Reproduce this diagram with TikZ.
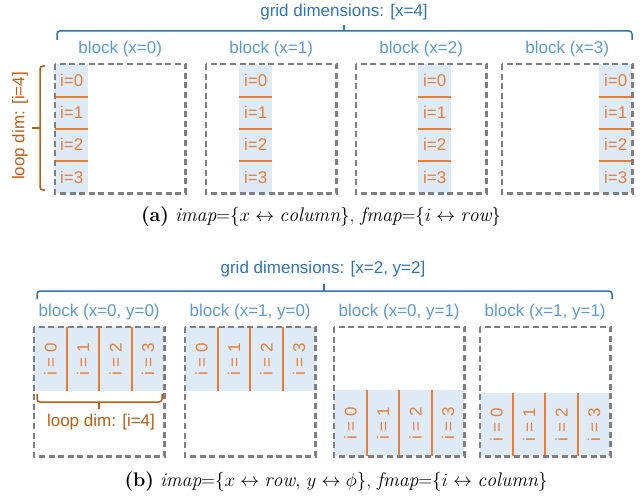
\documentclass[tikz,border=0pt]{standalone}
\usepackage{fontspec}
\usetikzlibrary{calc}
\newfontfamily\lab{Liberation Sans}
\definecolor{gridblue}{HTML}{2E75B6}
\definecolor{blocklabel}{HTML}{5B9BD5}
\definecolor{cellfill}{HTML}{DEEBF7}
\definecolor{iterorange}{HTML}{ED7D31}
\definecolor{loopbrown}{HTML}{C55A11}
\definecolor{boxgray}{HTML}{7F7F7F}
\begin{document}
\begin{tikzpicture}[x=1pt,y=-1pt,
  blockarea/.style={minimum width=130pt, minimum height=129pt, inner sep=0pt, anchor=north west},
  dashedframe/.style={draw=boxgray, line width=2.2pt, dash pattern=on 6pt off 3.6pt},
  blocktitle/.style={font=\lab\fontsize{17}{20}\selectfont, text=blocklabel, inner sep=0pt},
  gridtitle/.style={font=\lab\fontsize{17}{20}\selectfont, text=gridblue, inner sep=0pt},
  looptitle/.style={font=\lab\fontsize{17}{20}\selectfont, text=loopbrown, inner sep=0pt},
  rowcell/.style={fill=cellfill, minimum width=33pt, minimum height=32.25pt, inner sep=0pt,
    anchor=north west, font=\lab\fontsize{17}{20}\selectfont, text=iterorange},
  colcell/.style={fill=cellfill, minimum width=32.5pt, inner sep=0pt, anchor=north west},
  collabel/.style={rotate=90, font=\lab\fontsize{17}{20}\selectfont, text=iterorange, inner sep=0pt},
  divider/.style={draw=iterorange, line width=2pt},
  gridbrace/.style={draw=gridblue, line width=1.5pt, rounded corners=3pt},
  loopbrace/.style={draw=loopbrown, line width=1.5pt, rounded corners=3pt},
  caption/.style={font=\fontsize{18}{21}\selectfont, inner sep=0pt, scale=1.095, transform shape}]
\useasboundingbox (0,0) rectangle (644,497);

% ---------- (a) one row of blocks, iterations stacked in a column ----------
\foreach \k/\bx/\sx in {0/55/55, 1/206/239, 2/356/418, 3/502/599}{
  \node[blockarea] (A\k) at (\bx,64) {};
  \node[blocktitle] (A\k t) at ($(A\k.north)+(0,-15)$) {block (x=\k)};
  \foreach \r in {0,1,2,3}{
    \node[rowcell] (A\k r\r) at (\sx,{64+32.25*\r}) {i=\r};
  }
  \foreach \r in {0,1,2}{
    \draw[divider] (A\k r\r.south west) -- (A\k r\r.south east);
  }
  \draw[dashedframe] (A\k.north west) rectangle (A\k.south east);
}

% grid brace over the blocks
\coordinate (gaL) at (57,40);
\coordinate (gaR) at (632,40);
\coordinate (gaM) at (344,31);
\coordinate (gaT) at (344,25);
\draw[gridbrace] (gaL) -- (57,31) -- (632,31) -- (gaR);
\draw[gridbrace] (gaM) -- (gaT);
\node[gridtitle] (gaText) at (344,12) {grid dimensions: [x=4]};

% loop brace beside the first block
\coordinate (laT) at (45,66);
\coordinate (laB) at (45,190);
\coordinate (laM) at (40,128);
\coordinate (laTip) at (32,128);
\draw[loopbrace] (laT) -- (40,66) -- (40,190) -- (laB);
\draw[loopbrace] (laM) -- (laTip);
\node[looptitle, rotate=90] (laText) at (20,126) {loop dim: [i=4]};

\node[caption] (capA) at (321,217)
  {\textbf{(a)} $\mathit{imap}{=}\{x\leftrightarrow \mathit{column}\}$, $\mathit{fmap}{=}\{i\leftrightarrow \mathit{row}\}$};

% ---------- (b) 2x2 grid, iterations laid out along a row ----------
\foreach \k/\bx/\lbl/\ftop in {0/34/{x=0, y=0}/327, 1/185/{x=1, y=0}/327, 2/334/{x=0, y=1}/390, 3/480/{x=1, y=1}/393}{
  \node[blockarea] (B\k) at (\bx,327) {};
  \node[blocktitle] (B\k t) at ($(B\k.north)+(0,-15)$) {block (\lbl)};
  \pgfmathsetmacro{\ch}{\ftop==327 ? 64 : 456-\ftop}
  \foreach \c in {0,1,2,3}{
    \node[colcell, minimum height=\ch pt] (B\k c\c) at ({\bx+32.5*\c},\ftop) {};
  }
  \foreach \c in {0,1,2,3}{
    \node[collabel] (B\k l\c) at (B\k c\c.center) {i = \c};
  }
  \foreach \c in {0,1,2}{
    \draw[divider] (B\k c\c.north east) -- (B\k c\c.south east);
  }
  \draw[dashedframe] (B\k.north west) rectangle (B\k.south east);
}

% grid brace over the 2x2 blocks
\coordinate (gbL) at (37,299);
\coordinate (gbR) at (612,299);
\coordinate (gbM) at (324,291);
\coordinate (gbT) at (324,284);
\draw[gridbrace] (gbL) -- (37,291) -- (612,291) -- (gbR);
\draw[gridbrace] (gbM) -- (gbT);
\node[gridtitle] (gbText) at (323,269) {grid dimensions: [x=2, y=2]};

% loop brace under the iterations of the first block
\coordinate (lbL) at (37,394);
\coordinate (lbR) at (162,394);
\coordinate (lbM) at (99,402);
\coordinate (lbTip) at (99,409);
\draw[loopbrace] (lbL) -- (37,402) -- (162,402) -- (lbR);
\draw[loopbrace] (lbM) -- (lbTip);
\node[looptitle] (lbText) at (101,422) {loop dim: [i=4]};

\node[caption] (capB) at (336,482)
  {\textbf{(b)} $\mathit{imap}{=}\{x\leftrightarrow \mathit{row},\, y\leftrightarrow \phi\}$, $\mathit{fmap}{=}\{i\leftrightarrow \mathit{column}\}$};
\end{tikzpicture}
\end{document}
